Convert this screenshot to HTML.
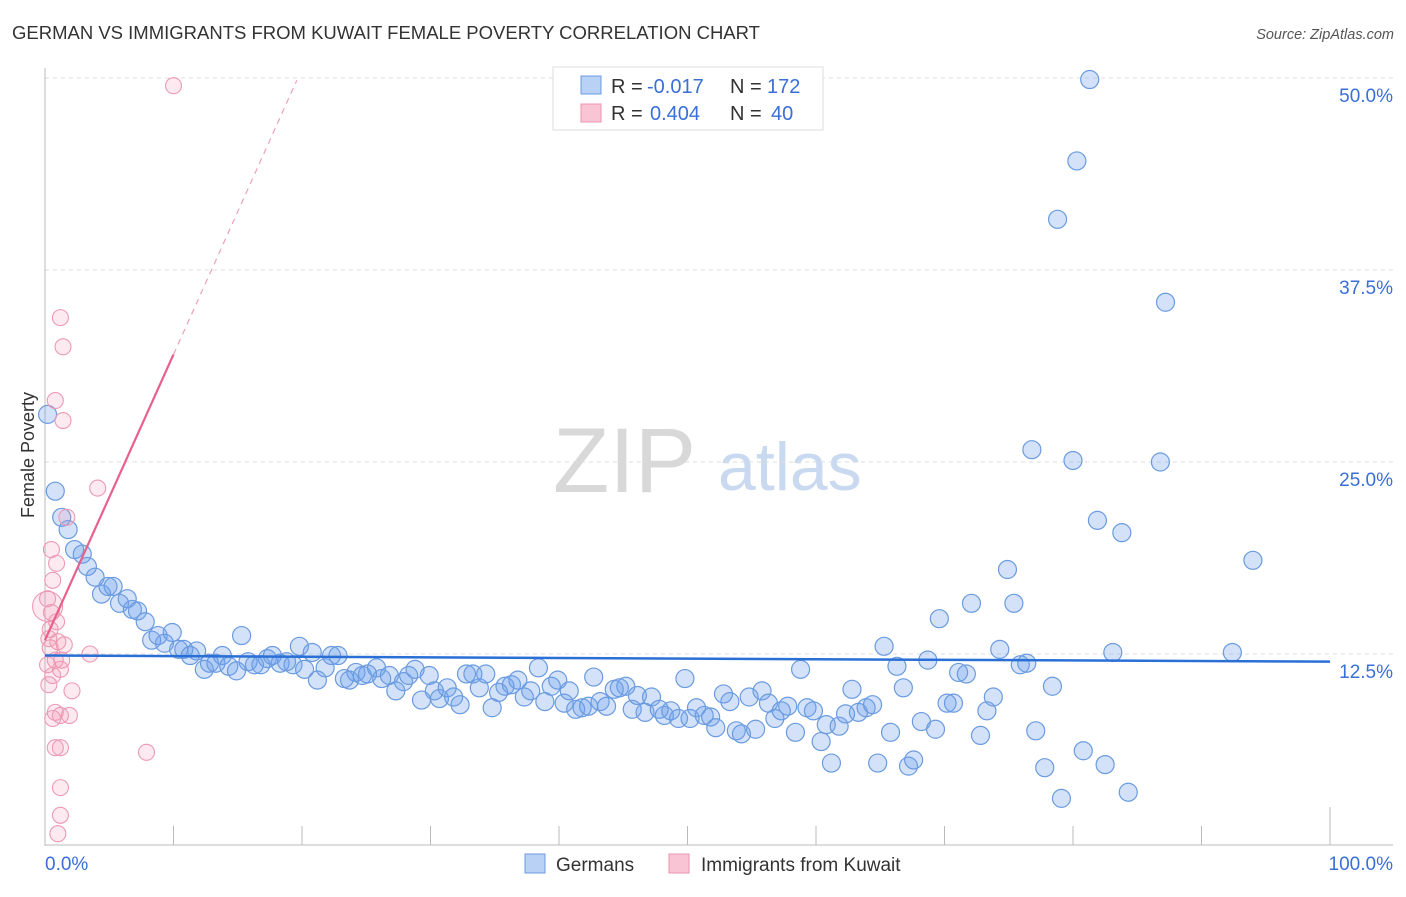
<!DOCTYPE html>
<html><head><meta charset="utf-8"><style>
body{margin:0;background:#fff;font-family:"Liberation Sans",sans-serif;}
svg text{font-family:"Liberation Sans",sans-serif;}
</style></head><body>
<svg id="c" width="1406" height="892">
<text x="12" y="39" font-size="18.5" fill="#333">GERMAN VS IMMIGRANTS FROM KUWAIT FEMALE POVERTY CORRELATION CHART</text>
<text x="1394" y="39" font-size="14.5" fill="#555" font-style="italic" text-anchor="end">Source: ZipAtlas.com</text>
<text x="0" y="0" transform="translate(34,455) rotate(-90)" font-size="18" fill="#333" text-anchor="middle">Female Poverty</text>
<g>
<text x="553" y="492" font-size="92" font-family="Liberation Serif" fill="#d8d8d8">ZIP</text>
<text x="718" y="490" font-size="68" fill="#c9d9f0">atlas</text>
</g>
<g id="grid"></g><g id="axes"></g><g id="pts"></g><g id="trend"></g>
<g>
<rect x="553" y="67" width="270" height="63" fill="#fff" stroke="#ddd"/>
<rect x="581" y="76" width="20" height="18" fill="#b9d1f5" stroke="#6c9be0"/>
<rect x="581" y="104" width="20" height="18" fill="#f9c5d5" stroke="#eb95b0"/>
<text x="611" y="93" font-size="20" fill="#333">R =</text>
<text x="647" y="93" font-size="20" fill="#3a6fd8">-0.017</text>
<text x="730" y="93" font-size="20" fill="#333">N =</text>
<text x="767" y="93" font-size="20" fill="#3a6fd8">172</text>
<text x="611" y="120" font-size="20" fill="#333">R =</text>
<text x="650" y="120" font-size="20" fill="#3a6fd8">0.404</text>
<text x="730" y="120" font-size="20" fill="#333">N =</text>
<text x="771" y="120" font-size="20" fill="#3a6fd8">40</text>
</g>
<g>
<rect x="525" y="854" width="20" height="19" fill="#b9d1f5" stroke="#6c9be0"/>
<text x="556" y="871" font-size="19" fill="#333">Germans</text>
<rect x="669" y="854" width="20" height="19" fill="#f9c5d5" stroke="#eb95b0"/>
<text x="701" y="871" font-size="19" fill="#333">Immigrants from Kuwait</text>
</g>
</svg>
<script>
const yTicks=[12.5,25,37.5,50];
const yTickLabels=["12.5%","25.0%","37.5%","50.0%"];
const xTickVals=[0,10,20,30,40,50,60,70,80,90,100];
const xEndLabels=["0.0%","100.0%"];
const germansX=[0.2,0.8,1.3,1.8,2.3,2.9,3.3,3.9,4.4,4.9,5.3,5.8,6.4,6.8,7.2,7.8,8.3,8.8,9.3,9.9,10.4,10.8,11.3,11.8,12.4,12.8,13.3,13.8,14.3,14.9,15.3,15.8,16.3,16.8,17.3,17.7,18.3,18.8,19.3,19.8,20.2,20.8,21.2,21.8,22.3,22.8,23.3,23.7,24.2,24.7,25.1,25.8,26.2,26.8,27.3,27.9,28.3,28.8,29.3,29.9,30.3,30.7,31.3,31.8,32.3,32.8,33.3,33.8,34.3,34.8,35.3,35.8,36.3,36.8,37.3,37.8,38.4,38.9,39.4,39.9,40.4,40.8,41.3,41.8,42.3,42.7,43.2,43.7,44.3,44.7,45.2,45.7,46.1,46.7,47.2,47.8,48.2,48.7,49.3,49.8,50.2,50.7,51.3,51.8,52.2,52.8,53.3,53.8,54.2,54.8,55.3,55.8,56.3,56.8,57.3,57.8,58.4,58.8,59.3,59.8,60.4,60.8,61.2,61.8,62.3,62.8,63.3,63.9,64.4,64.8,65.3,65.8,66.3,66.8,67.2,67.6,68.2,68.7,69.3,69.6,70.2,70.7,71.1,71.7,72.1,72.8,73.3,73.8,74.3,74.9,75.4,75.9,76.4,76.8,77.1,77.8,78.4,78.8,79.1,80.0,80.3,80.8,81.3,81.9,82.5,83.1,83.8,84.3,86.8,87.2,92.4,94.0];
const germansY=[28.1,23.1,21.4,20.6,19.3,19.0,18.2,17.5,16.4,16.9,16.9,15.8,16.1,15.4,15.3,14.6,13.4,13.7,13.2,13.9,12.8,12.8,12.4,12.7,11.5,11.9,11.9,12.4,11.7,11.4,13.7,12.0,11.8,11.8,12.2,12.4,11.9,12.0,11.8,13.0,11.5,12.6,10.8,11.6,12.4,12.4,10.9,10.8,11.3,11.1,11.2,11.6,10.9,11.1,10.1,10.7,11.1,11.5,9.5,11.1,10.1,9.6,10.3,9.7,9.2,11.2,11.2,10.3,11.2,9.0,10.0,10.4,10.5,10.8,9.7,10.1,11.6,9.4,10.4,10.8,9.3,10.1,8.9,9.0,9.1,11.0,9.4,9.1,10.2,10.3,10.4,8.9,9.8,8.7,9.7,8.9,8.5,8.8,8.3,10.9,8.3,9.0,8.5,8.4,7.7,9.9,9.4,7.5,7.3,9.7,7.6,10.1,9.3,8.3,8.8,9.1,7.4,11.5,9.0,8.8,6.8,7.9,5.4,7.8,8.6,10.2,8.7,9.0,9.2,5.4,13.0,7.4,11.7,10.3,5.2,5.6,8.1,12.1,7.6,14.8,9.3,9.3,11.3,11.2,15.8,7.2,8.8,9.7,12.8,18.0,15.8,11.8,11.9,25.8,7.5,5.1,10.4,40.8,3.1,25.1,44.6,6.2,49.9,21.2,5.3,12.6,20.4,3.5,25.0,35.4,12.6,18.6];
const kuwaitX=[10.0,1.2,1.4,0.8,1.4,4.1,1.7,0.5,0.9,0.6,0.2,0.5,0.9,0.3,1.0,3.5,0.4,0.8,1.3,1.2,0.6,0.3,2.1,0.8,1.2,0.6,1.9,0.8,1.2,7.9,1.2,1.2,1.0,0.4,0.2,1.5,0.2];
const kuwaitY=[49.5,34.4,32.5,29.0,27.7,23.3,21.4,19.3,18.4,17.3,15.6,15.2,14.6,13.5,13.3,12.5,12.9,12.1,12.1,11.5,11.1,10.5,10.1,8.7,8.5,8.3,8.5,6.4,6.4,6.1,3.8,2.0,0.8,14.1,16.1,13.1,11.8];
const kuwaitSize=[8,8,8,8,8,8,8,8,8,8,15,8,8,8,8,8,8,8,8,8,8,8,8,8,8,8,8,8,8,8,8,8,8,8,8,8,8];
const germanTrend=[12.4,12.0];
const kuwaitTrend=[13.4,1.86];

const NS="http://www.w3.org/2000/svg";
const X=v=>45+v*12.85, Y=v=>846-v*15.36;
function mk(t,a,p){const e=document.createElementNS(NS,t);for(const k in a)e.setAttribute(k,a[k]);document.getElementById(p).appendChild(e);return e;}
yTicks.forEach((t,i)=>{
 const g=mk('line',{x1:45,x2:1393,y1:Y(t),y2:Y(t),stroke:'#ddd','stroke-dasharray':'4,4'},'grid');
 
 
 const l=mk('text',{x:1393,y:Y(t)+24,'font-size':19,fill:'#3a6fd8','text-anchor':'end'},'grid');
 l.textContent=yTickLabels[i];
 
 
});
let ax=mk('line',{x1:45,x2:45,y1:68,y2:846,stroke:'#bbb'},'axes');


ax=mk('line',{x1:45,x2:1393,y1:845,y2:845,stroke:'#bbb'},'axes');


xTickVals.forEach(t=>{if(t===0)return;
 const tk=mk('line',{x1:X(t),x2:X(t),y1:t===100?807:826,y2:845,stroke:'#bbb'},'axes');
 
 
});
[0,100].forEach((t,i)=>{
 const l=mk('text',{x:i?1393:45,y:870,'font-size':19,fill:'#3a6fd8','text-anchor':i?'end':'start'},'axes');
 l.textContent=xEndLabels[i];
 
 
});
germansX.forEach((x,i)=>{
 const c=mk('circle',{cx:X(x),cy:Y(germansY[i]),r:9,fill:'rgba(110,160,235,0.3)',stroke:'#6a9be0','stroke-width':1.2},'pts');
 
 
});
kuwaitX.forEach((x,i)=>{
 const c=mk('circle',{cx:X(x),cy:Y(kuwaitY[i]),r:kuwaitSize[i],fill:'rgba(245,150,180,0.2)',stroke:'#ec9ab4','stroke-width':1.1},'pts');
 
 
});
let tl=mk('line',{x1:X(0),y1:Y(germanTrend[0]),x2:X(100),y2:Y(germanTrend[1]),stroke:'#2a6fd6','stroke-width':2.5},'trend');


const kx=10;
tl=mk('line',{x1:X(0),y1:Y(kuwaitTrend[0]),x2:X(kx),y2:Y(kuwaitTrend[0]+kuwaitTrend[1]*kx),stroke:'#e8608c','stroke-width':2.2},'trend');


const kx2=19.6;
tl=mk('line',{x1:X(kx),y1:Y(kuwaitTrend[0]+kuwaitTrend[1]*kx),x2:X(kx2),y2:Y(kuwaitTrend[0]+kuwaitTrend[1]*kx2),stroke:'#eea0b8','stroke-width':1.2,'stroke-dasharray':'6,5'},'trend');


</script>
</body></html>
